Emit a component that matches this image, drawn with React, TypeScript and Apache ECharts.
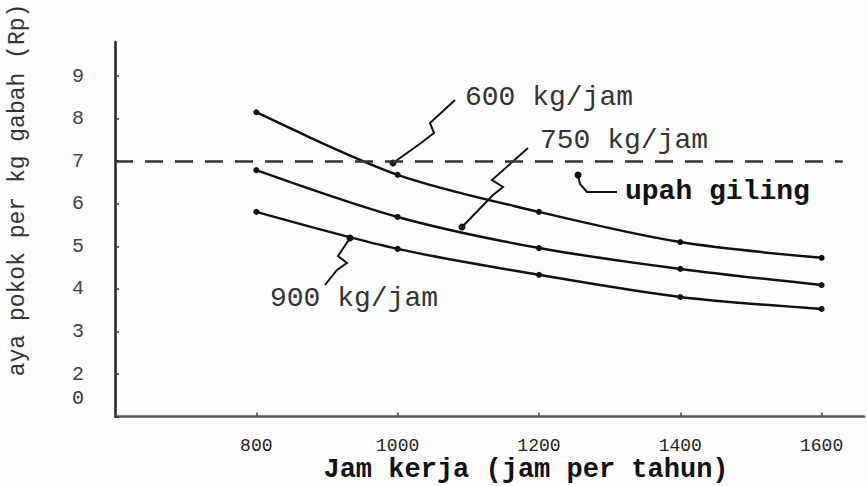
import React, { useEffect, useRef } from "react";
import * as echarts from "echarts";

// Data
const jamKerja = [800, 1000, 1200, 1400, 1600];
const cost600 = [8.15, 6.68, 5.81, 5.1, 4.73];
const cost750 = [6.79, 5.69, 4.96, 4.47, 4.09];
const cost900 = [5.81, 4.94, 4.33, 3.81, 3.53];
const upahGiling = 7;
const seriesNames = ["600 kg/jam", "750 kg/jam", "900 kg/jam"];

const MONO = "'Liberation Mono', 'DejaVu Sans Mono', monospace";

export default function App() {
  const ref = useRef<HTMLDivElement>(null);
  useEffect(() => {
    if (!ref.current) return;
    const chart = echarts.init(ref.current, undefined, { renderer: "svg" });
    const mkSeries = (name: string, vals: number[], extra: any = {}) => ({
      name,
      type: "line",
      data: jamKerja.map((x, i) => [x, vals[i]]),
      smooth: 0.3,
      symbol: "circle",
      symbolSize: 6,
      itemStyle: { color: "#111" },
      lineStyle: { color: "#111", width: 2.5 },
      ...extra,
    });
    const pl = (points: number[][]) => ({
      type: "polyline",
      shape: { points },
      style: { stroke: "#111", lineWidth: 2, fill: null },
    });
    const dot = (x: number, y: number) => ({
      type: "circle",
      shape: { cx: x, cy: y, r: 3.5 },
      style: { fill: "#111" },
    });
    const txt = (text: string, x: number, y: number, size: number, opts: any = {}) => ({
      type: "text",
      x,
      y,
      rotation: opts.rotation || 0,
      style: {
        text,
        font: `${opts.bold ? "bold " : ""}${size}px ${MONO}`,
        fill: opts.fill || "#333",
        textAlign: opts.align || "left",
        textVerticalAlign: "middle",
      },
    });
    chart.setOption({
      animation: false,
      backgroundColor: "#fdfdfd",
      grid: { left: 115, right: 3, top: 42, bottom: 69.4, outerBoundsMode: "none" },
      xAxis: {
        type: "value",
        min: 600,
        max: 1660,
        interval: 200,
        splitLine: { show: false },
        axisLine: { lineStyle: { color: "#555", width: 2.5 } },
        axisTick: { inside: true, length: 4, lineStyle: { color: "#444", width: 1.5 } },
        axisLabel: {
          showMinLabel: false,
          showMaxLabel: false,
          margin: 20,
          color: "#222",
          fontFamily: MONO,
          fontSize: 18,
          formatter: (v: number) => (v === 600 ? "" : String(v)),
        },
      },
      yAxis: {
        type: "value",
        min: 1,
        max: 9.8,
        interval: 1,
        splitLine: { show: false },
        axisLine: { lineStyle: { color: "#222", width: 2.5 } },
        axisTick: { inside: true, length: 4, lineStyle: { color: "#333", width: 1.5 } },
        axisLabel: {
          showMaxLabel: false,
          margin: 31,
          color: "#444",
          fontFamily: MONO,
          fontSize: 20,
          formatter: (v: number) => (v === 1 ? "" : String(v)),
        },
      },
      series: [
        mkSeries(seriesNames[0], cost600, {
          markLine: {
            silent: true,
            symbol: "none",
            label: { show: false },
            lineStyle: { color: "#333", width: 2.5, type: [18, 12] },
            data: [[{ coord: [600, upahGiling] }, { coord: [1630, upahGiling] }]],
          },
        }),
        mkSeries(seriesNames[1], cost750),
        mkSeries(seriesNames[2], cost900),
      ],
      graphic: [
        txt("600 kg/jam", 465, 97, 28),
        txt("750 kg/jam", 540, 140, 28),
        txt("upah giling", 625, 191, 28, { bold: true, fill: "#111" }),
        txt("900 kg/jam", 270, 298, 28),
        txt("Jam kerja (jam per tahun)", 526, 470, 27, { bold: true, align: "center", fill: "#111" }),
        txt("aya pokok per kg gabah (Rp)", 18, 190, 23, { align: "center", rotation: Math.PI / 2, fill: "#333" }),
        txt("0", 78, 398, 20, { align: "center", fill: "#333" }),
        pl([[455, 100], [430, 123], [434, 133], [421, 143], [393, 163]]),
        dot(393, 163),
        pl([[528, 148], [492, 180], [503, 187], [493, 195], [462, 227]]),
        dot(462, 227),
        pl([[350, 238], [338, 256], [347, 263], [337, 270], [325, 285]]),
        dot(350, 238),
        pl([[617, 192], [587, 192], [580, 184], [578, 175]]),
        dot(578, 175),
      ],
    });
    return () => chart.dispose();
  }, []);
  return (
    <div
      ref={ref}
      style={{ position: "fixed", left: 0, top: 0, width: 867, height: 486 }}
    />
  );
}
